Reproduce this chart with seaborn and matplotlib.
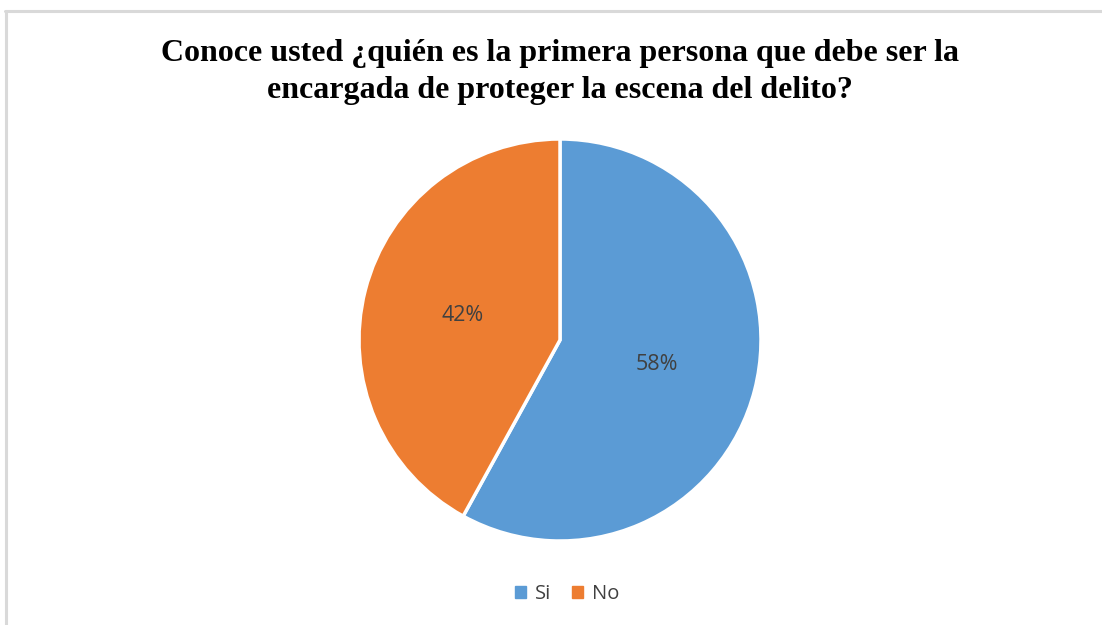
import matplotlib
matplotlib.use("Agg")
import matplotlib.pyplot as plt
import seaborn as sns
from matplotlib.lines import Line2D

# Survey answers
categories = ["Si", "No"]
shares = [58, 42]
colors = ["#5B9BD5", "#ED7D31"]

sns.set_theme(style="white")
palette = sns.color_palette(colors)

W, H = 1102, 625
fig = plt.figure(figsize=(W / 100, H / 100), dpi=100)

# light frame lines (top and left) like the source screenshot
fig.add_artist(Line2D([5 / W, 1.0], [1 - 10.5 / H, 1 - 10.5 / H], color="#D9D9D9", lw=2.2))
fig.add_artist(Line2D([6 / W, 6 / W], [0, 1 - 10.5 / H], color="#D9D9D9", lw=2.2))

# pie axes: centre (560, 340), radius 201 px
cx, cy, r = 560, 340, 201
ax = fig.add_axes([(cx - r) / W, (H - cy - r) / H, 2 * r / W, 2 * r / H])
wedges, texts, autotexts = ax.pie(
    shares,
    colors=palette,
    startangle=90,
    counterclock=False,
    autopct="%1.0f%%",
    pctdistance=0.5,
    wedgeprops=dict(edgecolor="white", linewidth=2.5),
    textprops=dict(color="#404040", fontsize=15.5, family=["Open Sans", "DejaVu Sans"]),
    radius=1.0,
)
ax.set_xlim(-1.0, 1.0)
ax.set_ylim(-1.0, 1.0)
ax.set_aspect("equal")
ax.axis("off")

fig.text(560 / W, 1 - 72 / H,
         "Conoce usted ¿quién es la primera persona que debe ser la\nencargada de proteger la escena del delito?",
         ha="center", va="center", fontsize=23, fontweight="bold",
         family=["Liberation Serif", "DejaVu Serif"], color="black", linespacing=1.35)

handles = [plt.Rectangle((0, 0), 1, 1, color=c) for c in palette]
fig.legend(handles, categories, loc="center", bbox_to_anchor=(567 / W, 1 - 594 / H),
           ncol=2, frameon=False, handlelength=0.55, handleheight=0.55, handletextpad=0.45,
           columnspacing=1.0, prop=dict(family=["Open Sans", "DejaVu Sans"], size=14.5),
           labelcolor="#404040")

fig.savefig("out.png", dpi=100, facecolor="white")
